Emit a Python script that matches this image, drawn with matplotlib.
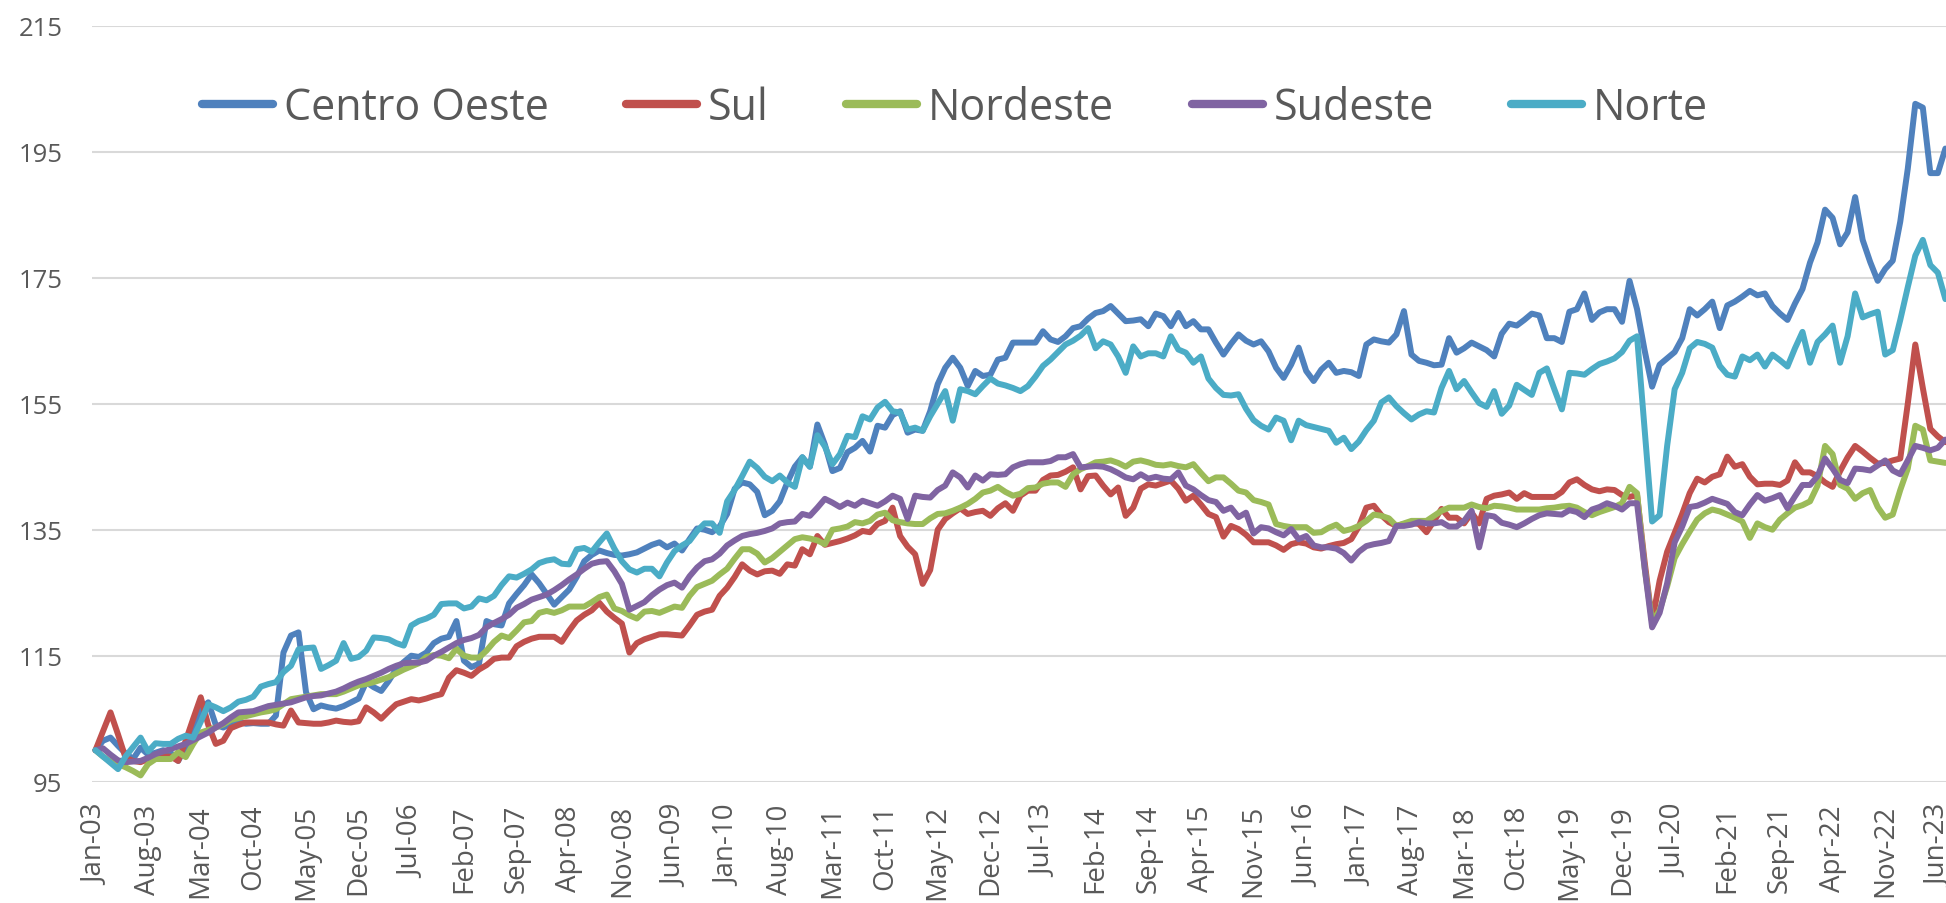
import numpy as np
import matplotlib
matplotlib.use("Agg")
import matplotlib.pyplot as plt

plt.rcParams['font.family'] = ['Open Sans', 'DejaVu Sans']

series_names = ["Centro Oeste", "Sul", "Nordeste", "Sudeste", "Norte"]
colors = ["#4F81BD", "#C0504D", "#9BBB59", "#8064A2", "#4BACC6"]

tick_labels = ["Jan-03", "Aug-03", "Mar-04", "Oct-04", "May-05", "Dec-05", "Jul-06", "Feb-07",
               "Sep-07", "Apr-08", "Nov-08", "Jun-09", "Jan-10", "Aug-10", "Mar-11", "Oct-11",
               "May-12", "Dec-12", "Jul-13", "Feb-14", "Sep-14", "Apr-15", "Nov-15", "Jun-16",
               "Jan-17", "Aug-17", "Mar-18", "Oct-18", "May-19", "Dec-19", "Jul-20", "Feb-21",
               "Sep-21", "Apr-22", "Nov-22", "Jun-23"]

# Monthly index values, Jan-03 .. Jul-23
centro_oeste = [
    100, 101.5, 102, 100.7, 99.5, 98.6, 100.4, 99.3, 99.6, 100, 99.6, 98.3,
    100.5, 103.5, 106.5, 107.6, 104, 103.6, 104.2, 104.5, 104.2, 104.3, 104.2, 104.2,
    105.5, 115.5, 118.2, 118.7, 109.2, 106.5, 107.1, 106.8, 106.6, 107, 107.6, 108.2,
    110.8, 110, 109.4, 111, 112.9, 114, 115, 114.8, 115.5, 117, 117.7, 118,
    120.5, 114.2, 113.2, 113.7, 120.5, 120, 119.8, 123.3, 124.8, 126.2, 127.9, 126.5,
    124.8, 123.1, 124.3, 125.5, 127.5, 130, 131, 131.7, 131.3, 131, 130.9, 131.1,
    131.4, 132, 132.6, 133, 132.2, 132.8, 131.7, 133.5, 135.2, 135, 134.6, 135.5,
    137.5, 141.5, 142.5, 142.2, 141, 137.3, 138, 139.5, 142.5, 145, 146.5, 145,
    151.7, 148.5, 144.3, 144.8, 147.3, 148, 149.1, 147.4, 151.5, 151.2, 153.2, 153.8,
    150.4, 150.9, 150.7, 153.8, 158.1, 160.7, 162.3, 160.7, 157.8, 160.2, 159.4, 159.6,
    162, 162.3, 164.7, 164.7, 164.7, 164.7, 166.5, 165.2, 164.8, 165.7, 167, 167.3,
    168.5, 169.4, 169.7, 170.5, 169.3, 168.1, 168.2, 168.4, 167.3, 169.3, 168.9, 167.3,
    169.4, 167.3, 168.1, 166.8, 166.8, 164.7, 162.8, 164.5, 166, 165, 164.4, 164.9,
    163.3, 160.7, 159.1, 161.2, 163.9, 160.2, 158.6, 160.4, 161.5, 159.9, 160.2, 160,
    159.4, 164.4, 165.2, 164.9, 164.7, 166, 169.7, 162.8, 161.8, 161.5, 161.1, 161.2,
    165.4, 163.1, 163.8, 164.7, 164.1, 163.5, 162.5, 166.1, 167.7, 167.4, 168.3, 169.3,
    169, 165.4, 165.4, 164.8, 169.6, 170, 172.5, 168.3, 169.5, 170, 170, 168,
    174.5, 170, 163.5, 157.7, 161.2, 162.2, 163.2, 165.4, 170, 169, 170, 171.2,
    167, 170.6, 171.2, 172, 172.9, 172.2, 172.5, 170.5, 169.3, 168.3, 170.9, 173.2,
    177.4, 180.6, 185.8, 184.5, 180.3, 182.2, 187.8, 181, 177.5, 174.5, 176.4, 177.7,
    183.9, 192.3, 202.6, 202, 191.6, 191.6, 195.5]

sul = [
    100, 103, 106, 102.5, 98.8, 98.3, 98.1, 98.6, 99, 99, 99, 98.3,
    101.5, 105, 108.4, 104, 101, 101.5, 103.5, 104, 104.4, 104.4, 104.4, 104.4,
    104.1, 103.9, 106.3, 104.4, 104.3, 104.2, 104.2, 104.4, 104.7, 104.5, 104.4, 104.6,
    106.8, 106, 105, 106.2, 107.3, 107.7, 108.1, 107.9, 108.2, 108.6, 108.9, 111.5,
    112.7, 112.3, 111.8, 112.8, 113.5, 114.5, 114.7, 114.7, 116.5, 117.2, 117.7, 118,
    118, 118, 117.2, 119, 120.6, 121.5, 122.2, 123.4, 122, 121, 120.1, 115.5,
    117, 117.6, 118, 118.4, 118.4, 118.3, 118.2, 119.8, 121.5, 122, 122.3, 124.5,
    125.8, 127.5, 129.5, 128.5, 127.9, 128.4, 128.5, 128, 129.5, 129.3, 131.9, 131.1,
    134, 132.6, 132.9, 133.2, 133.6, 134.1, 134.8, 134.6, 135.9, 136.4, 138.5, 134,
    132.3, 131.1, 126.4, 128.6, 135, 136.7, 137.6, 138.4, 137.5, 137.8, 138, 137.2,
    138.4, 139.2, 138, 140.4, 141.2, 141.2, 142.9, 143.6, 143.7, 144.2, 144.9, 141.4,
    143.5, 143.6, 142, 140.6, 141.7, 137.2, 138.5, 141.5, 142.2, 142, 142.4, 142.8,
    141.5, 139.6, 140.4, 139, 137.5, 137, 133.9, 135.6, 135.1, 134.2, 133, 133,
    133, 132.5, 131.8, 132.7, 133, 132.8, 132.2, 132, 132.4, 132.7, 132.9, 133.5,
    135.5, 138.5, 138.8, 137.3, 136.2, 135.6, 135.9, 136.1, 135.9, 134.6, 136.4, 138.3,
    136.9, 136.9, 136, 137.7, 136, 139.9, 140.4, 140.6, 140.9, 139.9, 140.8, 140.2,
    140.2, 140.2, 140.2, 141, 142.5, 143, 142.1, 141.4, 141.1, 141.4, 141.3, 140.5,
    140.2, 140.5, 130, 120.4, 126.9, 131.5, 134.5, 137.5, 140.8, 143.1, 142.5, 143.4,
    143.8, 146.6, 145, 145.4, 143.4, 142.2, 142.3, 142.3, 142.1, 142.8, 145.7, 144.1,
    144.1, 143.5, 142.5, 141.8, 144.3, 146.5, 148.3, 147.4, 146.4, 145.5, 145.6, 146,
    146.3, 155, 164.4, 157.5, 151, 149.8, 148.9]

nordeste = [
    100, 99, 98.2, 97.8, 97.3, 96.7, 96, 97.8, 98.6, 98.6, 98.6, 99.7,
    98.9, 101, 102.8, 103.2, 103.6, 104.1, 104.8, 105.1, 105.4, 105.7, 106, 106.2,
    106.5, 107.3, 108.1, 108.3, 108.5, 108.7, 108.9, 108.9, 108.9, 109.3, 109.8, 110.3,
    110.5, 110.8, 111.2, 111.6, 112.2, 112.8, 113.3, 113.8, 114.8, 115.1, 115, 114.6,
    116.1, 115, 114.7, 114.7, 115.8, 117.2, 118.2, 117.8, 119, 120.3, 120.5, 121.8,
    122.1, 121.8, 122.2, 122.8, 122.8, 122.8, 123.5, 124.3, 124.7, 122.5, 122.1, 121.4,
    120.9, 122, 122.1, 121.8, 122.3, 122.8, 122.6, 124.5, 125.9, 126.4, 126.9, 127.9,
    128.8, 130.4, 131.9, 131.9, 131.2, 129.8, 130.5, 131.5, 132.5, 133.5, 133.8, 133.6,
    133.3, 132.7, 135, 135.2, 135.5, 136.2, 136, 136.4, 137.4, 137.7, 136.5, 136.2,
    136, 135.9, 135.9, 136.8, 137.5, 137.6, 138, 138.5, 139.1, 139.9, 140.9, 141.2,
    141.8, 141, 140.4, 140.7, 141.6, 141.7, 142.3, 142.5, 142.5, 141.8, 143.8, 144.6,
    145.1, 145.7, 145.8, 146, 145.6, 145, 145.8, 146, 145.7, 145.3, 145.2, 145.4,
    145.1, 144.9, 145.4, 144, 142.7, 143.3, 143.3, 142.3, 141.2, 140.9, 139.7, 139.4,
    139, 135.9, 135.6, 135.4, 135.4, 135.4, 134.5, 134.6, 135.3, 135.8, 134.8, 135.1,
    135.6, 136.4, 137.4, 137.2, 136.8, 135.6, 136, 136.4, 136.4, 136.4, 137.2, 138,
    138.5, 138.5, 138.5, 139, 138.6, 138.4, 138.8, 138.7, 138.5, 138.2, 138.2, 138.2,
    138.2, 138.4, 138.5, 138.7, 138.8, 138.5, 137.8, 137.3, 137.8, 138.2, 138.6, 139.2,
    141.8, 140.8, 129, 120.4, 122.2, 126, 130.5, 132.7, 134.7, 136.6, 137.6, 138.2,
    137.9, 137.4, 136.9, 136.3, 133.7, 136, 135.4, 135, 136.6, 137.6, 138.5, 138.9,
    139.5, 142, 148.3, 147, 142.1, 141.5, 139.9, 140.8, 141.3, 138.6, 136.9, 137.4,
    141.3, 144.7, 151.5, 150.9, 146, 145.8, 145.6]

sudeste = [
    100, 100.3, 99.3, 98.4, 98.1, 98.2, 98.3, 98.8, 99.4, 99.8, 100.2, 100.6,
    101, 101.6, 102.2, 102.8, 103.6, 104.3, 105.2, 106, 106.1, 106.2, 106.6, 107,
    107.2, 107.4, 107.6, 108, 108.4, 108.6, 108.7, 109, 109.3, 109.8, 110.4, 110.9,
    111.3, 111.8, 112.3, 112.9, 113.4, 113.8, 113.9, 113.9, 114.2, 115, 115.6, 116.3,
    117, 117.5, 117.8, 118.3, 119.5, 120.2, 120.8, 121.5, 122.6, 123.2, 123.9, 124.3,
    124.7, 125.4, 126.2, 127.1, 127.9, 128.8, 129.6, 129.9, 130, 128.4, 126.4, 122.3,
    122.9, 123.5, 124.6, 125.5, 126.2, 126.6, 125.8, 127.6, 129, 130, 130.3, 131.2,
    132.5, 133.3, 134, 134.3, 134.5, 134.8, 135.2, 136, 136.2, 136.3, 137.5, 137.2,
    138.5, 139.9, 139.3, 138.6, 139.3, 138.8, 139.6, 139.2, 138.8, 139.5, 140.4, 139.9,
    136.7, 140.4, 140.2, 140.1, 141.3, 142, 144.1, 143.3, 141.7, 143.6, 142.8, 143.8,
    143.7, 143.8, 144.9, 145.4, 145.7, 145.7, 145.7, 145.9, 146.5, 146.5, 147, 144.9,
    145, 145.1, 145, 144.6, 144, 143.3, 143, 143.8, 143.1, 143.4, 143.1, 143,
    144.1, 142, 141.4, 140.5, 139.7, 139.4, 138, 138.5, 137, 137.7, 134.4, 135.4,
    135.2, 134.6, 134.1, 135.1, 133.5, 134, 132.5, 132.2, 132.2, 132, 131.3, 130.1,
    131.5, 132.4, 132.7, 132.9, 133.2, 135.6, 135.6, 135.8, 136.2, 136, 136, 136.2,
    135.5, 135.5, 136.4, 138, 132.2, 137.3, 137.1, 136.1, 135.8, 135.4, 136, 136.7,
    137.3, 137.6, 137.5, 137.4, 138.1, 137.8, 137, 138.2, 138.6, 139.2, 138.8, 138.2,
    139.2, 139.2, 129, 119.5, 121.8, 126.5, 133, 135.5, 138.6, 138.8, 139.3, 139.9,
    139.5, 139.1, 137.8, 137.3, 139, 140.5, 139.6, 140, 140.5, 138.4, 140.3, 142.1,
    142.1, 143.5, 146.3, 144.7, 142.9, 142.4, 144.7, 144.6, 144.4, 145.2, 146, 144.4,
    143.8, 146, 148.3, 148, 147.6, 148, 149.3]

norte = [
    100, 99, 98, 97, 99, 100.5, 102, 99.8, 101.1, 101, 101, 101.8,
    102.3, 102, 104.5, 107.3, 106.8, 106.2, 106.8, 107.7, 108, 108.5, 110.1, 110.5,
    110.8, 112.4, 113.4, 116, 116.2, 116.3, 112.9, 113.5, 114.2, 117, 114.5, 114.8,
    115.8, 117.9, 117.8, 117.6, 117, 116.6, 119.8, 120.5, 120.9, 121.5, 123.2, 123.3,
    123.3, 122.5, 122.8, 124.1, 123.8, 124.5, 126.2, 127.6, 127.4, 128, 128.7, 129.7,
    130.1, 130.3, 129.6, 129.5, 131.9, 132.1, 131.5, 133, 134.4, 132, 130, 128.7,
    128.2, 128.8, 128.8, 127.6, 129.8, 131.6, 132.5, 133.2, 134.8, 136, 136, 134.5,
    139.5, 141.3, 143.5, 145.8, 144.8, 143.4, 142.7, 143.6, 142.5, 141.8, 146.5, 145,
    150, 148.2, 145.4, 147, 149.9, 149.7, 153, 152.5, 154.4, 155.3, 153.8, 153.6,
    150.9, 151.2, 150.7, 153, 155, 157, 152.3, 157.3, 157, 156.5, 157.8, 159,
    158.2, 157.9, 157.5, 157, 157.8, 159.3, 161, 162, 163.2, 164.4, 165, 165.8,
    167, 163.8, 164.9, 164.4, 162.5, 159.9, 164.1, 162.5, 163, 163, 162.5, 165.7,
    163.6, 163.1, 161.5, 162.5, 159, 157.5, 156.4, 156.3, 156.5, 154.2, 152.4, 151.5,
    150.9, 152.8, 152.3, 149.2, 152.3, 151.6, 151.3, 151, 150.7, 148.8, 149.6, 147.8,
    149, 150.8, 152.3, 155.2, 156, 154.6, 153.5, 152.5, 153.3, 153.8, 153.6, 157.5,
    160.2, 157.3, 158.6, 156.8, 155.1, 154.5, 157, 153.4, 154.7, 158, 157.2, 156.4,
    159.9, 160.6, 157.3, 154.1, 159.9, 159.8, 159.6, 160.5, 161.3, 161.7, 162.2, 163.2,
    165, 165.7, 151, 136.3, 137.3, 148.3, 157.3, 159.9, 163.8, 164.8, 164.5, 163.9,
    161, 159.6, 159.3, 162.5, 161.9, 162.8, 160.9, 162.8, 161.9, 160.9, 163.8, 166.4,
    161.5, 164.8, 166, 167.4, 161.5, 165.7, 172.5, 168.7, 169.2, 169.6, 162.8, 163.5,
    168.3, 173.5, 178.5, 181, 177, 175.8, 171.6]

all_series = [centro_oeste, sul, nordeste, sudeste, norte]
n = len(centro_oeste)
for s in all_series:
    assert len(s) == n, len(s)

W, H = 1946, 904
fig = plt.figure(figsize=(W / 100, H / 100), dpi=100)
left_px, top_px, bottom_px = 91.7, 26.7, 782.7
px_per_month = 7.52
ax = fig.add_axes([left_px / W, 1 - bottom_px / H, n * px_per_month / W, (bottom_px - top_px) / H])

x = np.arange(n)
for name, vals, c in zip(series_names, all_series, colors):
    ax.plot(x, vals, color=c, lw=4.3, label=name,
            solid_joinstyle='round', solid_capstyle='round')

ax.set_xlim(-0.5, n - 0.5)
ax.set_ylim(95, 215)
ax.set_yticks(np.arange(95, 216, 20))
ax.set_xticks(np.arange(0, len(tick_labels) * 7, 7))
ax.set_xticklabels(tick_labels, rotation=90)

text_color = "#595959"
ax.tick_params(axis='y', length=0, pad=21, labelsize=18.5, labelcolor=text_color)
ax.tick_params(axis='x', length=0, pad=16, labelsize=20, labelcolor=text_color)
for sp in ax.spines.values():
    sp.set_visible(False)
ax.grid(axis='y', color='#D9D9D9', lw=1.5)
ax.set_axisbelow(True)

leg = ax.legend(loc='center left', bbox_to_anchor=(202 / W, 1 - 109 / H),
                bbox_transform=fig.transFigure, ncol=5, frameon=False,
                fontsize=31, handlelength=1.65, handletextpad=0.25,
                columnspacing=1.8, borderpad=0, borderaxespad=0)
for t in leg.get_texts():
    t.set_color(text_color)
for h in leg.get_lines():
    h.set_linewidth(6)

fig.savefig("out.png", dpi=100)
